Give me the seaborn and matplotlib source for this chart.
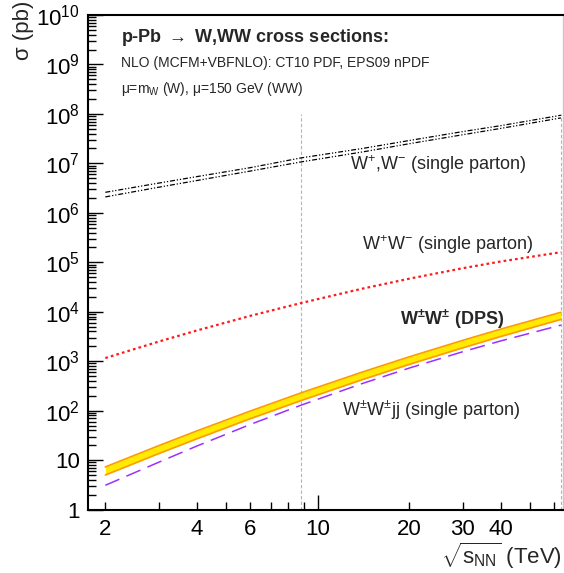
import matplotlib
matplotlib.use("Agg")
import matplotlib.pyplot as plt
import matplotlib.ticker as mticker
import numpy as np
import pandas as pd
import seaborn as sns

energy = [2, 3, 4, 6, 8.8, 14, 20, 30, 40, 63]
# cross sections in pb
w_plus = [2.6e6, 4.0e6, 5.4e6, 8.2e6, 1.29e7, 2.0e7, 2.9e7, 4.4e7, 5.8e7, 9.4e7]
w_minus = [2.1e6, 3.3e6, 4.5e6, 7.0e6, 1.07e7, 1.7e7, 2.5e7, 3.8e7, 5.1e7, 8.3e7]
ww_sp = [1160, 2500, 4180, 8280, 1.5e4, 2.93e4, 4.67e4, 7.6e4, 1.04e5, 1.6e5]
dps_hi = [7.3, 19.7, 39, 98.6, 229, 604, 1230, 2650, 4470, 9770]
dps_lo = [5.0, 13.6, 27, 69, 160, 424, 865, 1870, 3170, 7000]
wwjj = [3.1, 9.1, 19.3, 52.8, 129, 354, 728, 1560, 2580, 5370]

collider_lines = [8.8, 63]
x_minor = [2, 3, 4, 5, 6, 7, 8, 9, 20, 30, 40, 50, 60]
x_minor_labels = ["2", "", "4", "", "6", "", "", "", "20", "30", "40", "", ""]
y_major = [10.0 ** k for k in range(11)]
y_major_labels = ["1", "10"] + [f"$10^{{{k}}}$" for k in range(2, 11)]

df = pd.DataFrame({"E": energy, "wp": w_plus, "wm": w_minus, "ww": ww_sp,
                   "hi": dps_hi, "lo": dps_lo, "jj": wwjj})

sns.set_theme(style="ticks")
plt.rcParams["font.family"] = ["Liberation Sans", "DejaVu Sans"]
plt.rcParams["mathtext.fontset"] = "custom"
plt.rcParams["mathtext.rm"] = "Liberation Sans"
plt.rcParams["mathtext.it"] = "Liberation Sans:italic"
plt.rcParams["mathtext.bf"] = "Liberation Sans:bold"
plt.rcParams["mathtext.default"] = "regular"

W, H = 564, 573
fig = plt.figure(figsize=(W / 100, H / 100), dpi=100)
ax = fig.add_axes([88 / W, 1 - 509.6 / H, (563 - 88) / W, (509.6 - 15) / H])
ax.set_xscale("log"); ax.set_yscale("log")
ax.set_xlim(1.754, 64); ax.set_ylim(1, 1e10)

ax.vlines(collider_lines, 1, 1e8, colors="#b4b4b4", linewidth=0.8,
          linestyles=(0, (3, 2)), zorder=1)

dashdotdot = (0, (4, 1.5, 1, 1.5, 1, 1.5))
sns.lineplot(data=df, x="E", y="wp", ax=ax, color="black", linewidth=0.9, linestyle=dashdotdot)
sns.lineplot(data=df, x="E", y="wm", ax=ax, color="black", linewidth=0.9, linestyle=dashdotdot)
sns.lineplot(data=df, x="E", y="ww", ax=ax, color="#ff1a1a", linewidth=1.6, linestyle=(0, (1.2, 1.4)))
ax.fill_between(df["E"], df["lo"], df["hi"], color="#ffea00", linewidth=0, zorder=2)
sns.lineplot(data=df, x="E", y="hi", ax=ax, color="#ff9a00", linewidth=1.2, zorder=3)
sns.lineplot(data=df, x="E", y="lo", ax=ax, color="#ff9a00", linewidth=1.2, zorder=3)
sns.lineplot(data=df, x="E", y="jj", ax=ax, color="#9b30ff", linewidth=1.1, linestyle=(0, (10, 5)))
ax.set_xlabel(""); ax.set_ylabel("")

for s in ["left", "bottom", "top"]:
    ax.spines[s].set_linewidth(1.5); ax.spines[s].set_color("black")
ax.spines["right"].set_color("#c8c8c8"); ax.spines["right"].set_linewidth(1)

ax.yaxis.set_major_locator(mticker.FixedLocator(y_major))
ax.yaxis.set_major_formatter(mticker.FixedFormatter(y_major_labels))
ax.yaxis.set_minor_locator(mticker.LogLocator(base=10, subs=np.arange(2, 10), numticks=20))
ax.yaxis.set_minor_formatter(mticker.NullFormatter())
ax.xaxis.set_major_locator(mticker.FixedLocator([10]))
ax.xaxis.set_major_formatter(mticker.FixedFormatter(["10"]))
ax.xaxis.set_minor_locator(mticker.FixedLocator(x_minor))
ax.xaxis.set_minor_formatter(mticker.FixedFormatter(x_minor_labels))
ax.tick_params(which="both", direction="in", labelsize=16, colors="black",
               top=False, right=False, width=1)
ax.tick_params(axis="y", which="major", length=11, pad=6)
ax.tick_params(axis="y", which="minor", length=5.5)
ax.tick_params(axis="x", which="major", length=11, pad=7)
ax.tick_params(axis="x", which="minor", length=5.5, pad=7, labelsize=16)

def ftext(x, y, s, **kw):
    fig.text(x / W, 1 - y / H, s, **kw)

ftext(121, 38, r"p-Pb $\rightarrow$ W,WW cross sections:", fontsize=13,
      fontweight="bold", va="center")
ftext(121, 63, "NLO (MCFM+VBFNLO): CT10 PDF, EPS09 nPDF", fontsize=10, va="center")
ftext(121, 89, r"$\mu$=m$_{W}$ (W), $\mu$=150 GeV (WW)", fontsize=10, va="center")

ftext(350, 165, r"W$^{+}$,W$^{-}$ (single parton)", fontsize=13, va="center")
ftext(362, 245, r"W$^{+}$W$^{-}$ (single parton)", fontsize=13, va="center")
ftext(400, 319, r"$\mathbf{W^{\pm}W^{\pm}}$ (DPS)", fontsize=13, fontweight="bold", va="center")
ftext(342, 410, r"W$^{\pm}$W$^{\pm}$jj (single parton)", fontsize=13, va="center")

ftext(24, 1, "σ (pb)", fontsize=16, rotation=90, ha="center", va="top")
ftext(562, 556, r"$\sqrt{s_{NN}}$ (TeV)", fontsize=16, ha="right", va="center")

fig.savefig("out.png", dpi=100)
